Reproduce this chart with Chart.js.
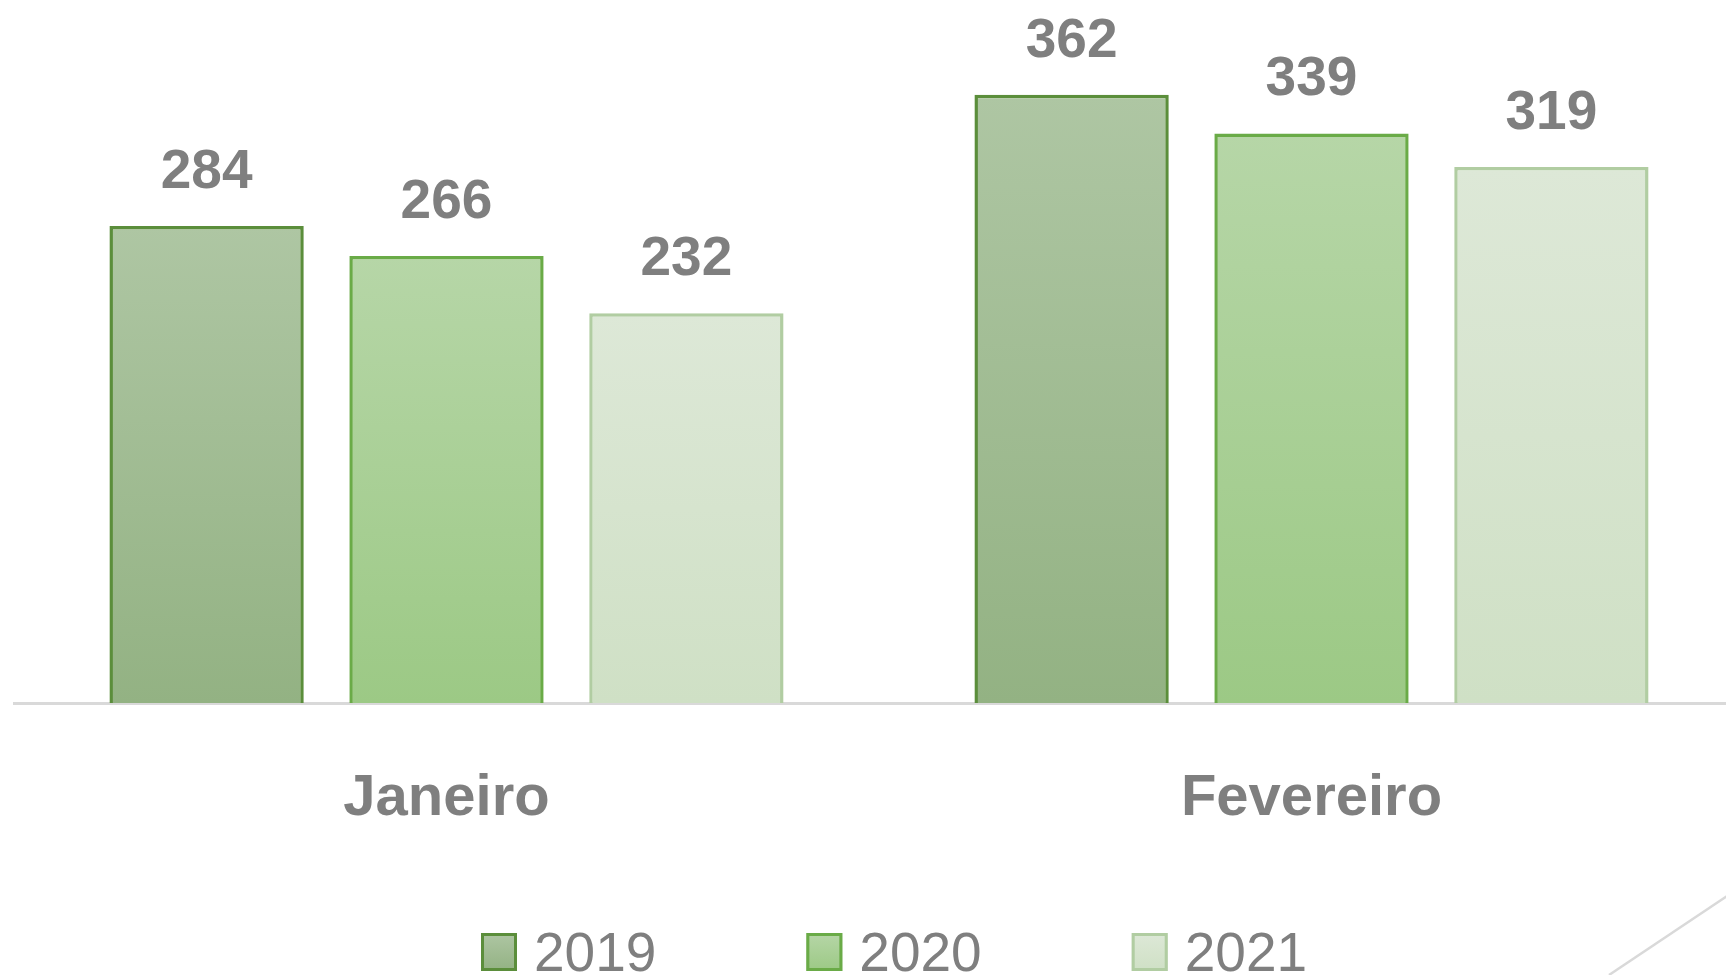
<!DOCTYPE html>
<html>
<head>
<meta charset="utf-8">
<script src="https://cdn.jsdelivr.net/npm/chart.js@4/dist/chart.umd.min.js"></script>
<style>
  html, body { margin: 0; padding: 0; background: #fff; overflow: hidden; }
  #wrap { width: 1760px; height: 975px; }
</style>
</head>
<body>
<div id="wrap"><canvas id="grafico" width="1760" height="975"></canvas></div>
<script>
const meses = ['Janeiro', 'Fevereiro'];
const anos = ['2019', '2020', '2021'];
const valores2019 = [284, 362];
const valores2020 = [266, 339];
const valores2021 = [232, 319];

// cores: topo do degradê, base do degradê, borda
const cores = {
  '2019': ['#aec6a3', '#93b283', '#5b8e3b'],
  '2020': ['#b6d6a7', '#9cc985', '#6aab47'],
  '2021': ['#dde8d7', '#cfe0c5', '#b1cda2']
};

function degrade(ano) {
  return function (c) {
    const chart = c.chart;
    const cor = cores[ano];
    if (!chart.chartArea || c.type !== 'data') return cor[1];
    const y = chart.scales.y;
    const topo = y.getPixelForValue(c.raw);
    const base = y.getPixelForValue(0);
    const g = chart.ctx.createLinearGradient(0, topo, 0, base);
    g.addColorStop(0, cor[0]);
    g.addColorStop(1, cor[1]);
    return g;
  };
}

function serie(ano, dados) {
  return {
    label: ano,
    data: dados,
    backgroundColor: degrade(ano),
    borderColor: cores[ano][2],
    borderWidth: 3.5,
    categoryPercentage: 0.832,
    barPercentage: 0.81
  };
}

const rotulos = {
  id: 'rotulos',
  afterDatasetsDraw(chart) {
    const ctx = chart.ctx;
    ctx.save();
    ctx.font = 'bold 55px "Liberation Sans"';
    ctx.fillStyle = '#7f7f7f';
    ctx.textAlign = 'center';
    ctx.textBaseline = 'alphabetic';
    chart.data.datasets.forEach((ds, i) => {
      chart.getDatasetMeta(i).data.forEach((bar, j) => {
        ctx.fillText(ds.data[j], bar.x, bar.y - 38);
      });
    });
    ctx.restore();
  }
};

const legenda = {
  id: 'legenda',
  afterDraw(chart) {
    const ctx = chart.ctx;
    ctx.save();
    ctx.font = '55px "Liberation Sans"';
    ctx.textBaseline = 'alphabetic';
    let x = 481;
    chart.data.datasets.forEach(ds => {
      const cor = cores[ds.label];
      const g = ctx.createLinearGradient(0, 933, 0, 971);
      g.addColorStop(0, cor[0]);
      g.addColorStop(1, cor[1]);
      ctx.fillStyle = g;
      ctx.fillRect(x, 933, 36, 38);
      ctx.strokeStyle = cor[2];
      ctx.lineWidth = 3;
      ctx.strokeRect(x + 1.5, 934.5, 33, 35);
      ctx.fillStyle = '#7f7f7f';
      ctx.fillText(ds.label, x + 53, 971);
      x += 53 + ctx.measureText(ds.label).width + 150;
    });
    // traço decorativo do slide
    ctx.strokeStyle = '#d9d9d9';
    ctx.lineWidth = 2.5;
    ctx.beginPath();
    ctx.moveTo(1760, 874);
    ctx.lineTo(1609, 975);
    ctx.stroke();
    ctx.restore();
  }
};

new Chart(document.getElementById('grafico').getContext('2d'), {
  type: 'bar',
  data: {
    labels: meses,
    datasets: [
      serie(anos[0], valores2019),
      serie(anos[1], valores2020),
      serie(anos[2], valores2021)
    ]
  },
  options: {
    responsive: false,
    animation: false,
    layout: { padding: { top: 31, left: 14, right: 16, bottom: 0 } },
    plugins: {
      legend: { display: false },
      tooltip: { enabled: false }
    },
    scales: {
      x: {
        grid: { display: false, drawTicks: false },
        border: { display: true, color: '#d9d9d9', width: 3 },
        ticks: {
          color: '#7f7f7f',
          padding: 61,
          font: { family: '"Liberation Sans"', size: 58, weight: 'bold' }
        },
        afterFit(scale) { scale.height = 272; }
      },
      y: {
        display: false,
        min: 0,
        max: 400
      }
    }
  },
  plugins: [rotulos, legenda]
});
</script>
</body>
</html>
